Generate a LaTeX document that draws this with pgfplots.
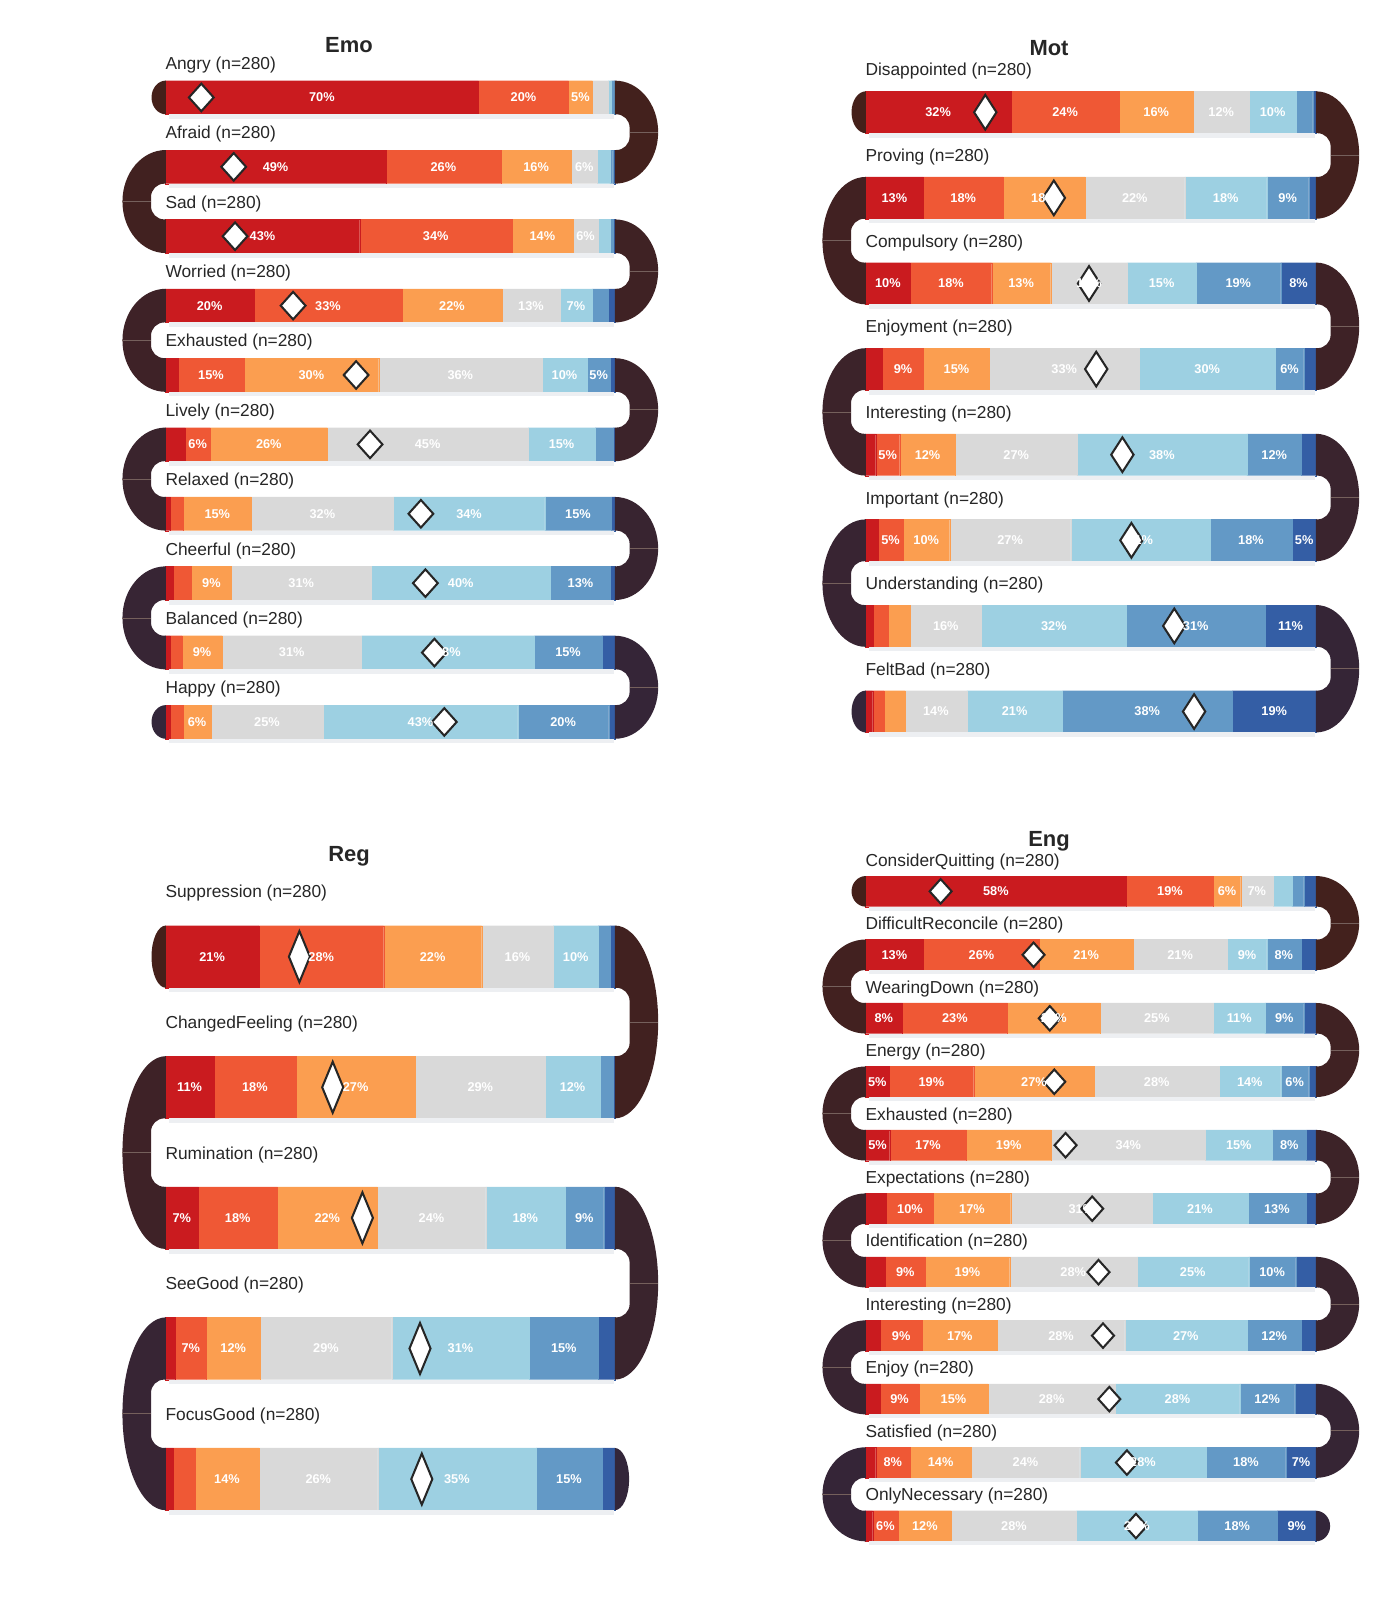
\documentclass[border=0pt]{standalone}
\usepackage{fontspec}
\setmainfont{Liberation Sans}
\usepackage{pgfplots}
\usepackage{pgfplotstable}
\pgfplotsset{compat=1.18}

\definecolor{c1}{HTML}{CA1B1F}
\definecolor{c2}{HTML}{EF5835}
\definecolor{c3}{HTML}{FB9E50}
\definecolor{c4}{HTML}{D9D9D9}
\definecolor{c5}{HTML}{9DD0E2}
\definecolor{c6}{HTML}{6399C6}
\definecolor{c7}{HTML}{345EA5}
\definecolor{arcA}{HTML}{45201A}
\definecolor{arcB}{HTML}{33263A}
\definecolor{arcline}{HTML}{75605C}
\definecolor{shadowc}{HTML}{EDEFF2}
\definecolor{txt}{HTML}{262626}

\newcommand\labfont{\fontsize{17}{20}\selectfont}
\newcommand\ttlfont{\bfseries\fontsize{21.5}{25}\selectfont}
\newcommand\barfont{\bfseries\fontsize{12.5}{14}\selectfont}

% ring between row #1 and row #1+1 at the right end; #2 colour mix; #3 name
\newcommand\rarc[3]{%
 \fill[arcB!#2!arcA] ([xshift=-0.5pt,yshift=\ArcR pt]axis cs:100,#1.5)
   arc[start angle=90,end angle=-90,x radius=42.5pt,y radius=\ArcR pt]
   -- ([xshift=-0.5pt,yshift=-\ArcG pt]axis cs:100,#1.5)
   -- ([xshift=1pt,yshift=-\ArcG pt]axis cs:100,#1.5)
   arc[start angle=-90,end angle=0,radius=13pt]
   -- ++(0pt,\ArcI pt)
   arc[start angle=0,end angle=90,radius=13pt]
   -- ([xshift=-0.5pt,yshift=\ArcG pt]axis cs:100,#1.5) -- cycle;
 \coordinate (#3) at (axis cs:100,#1.5);
}
\newcommand\larc[3]{%
 \fill[arcB!#2!arcA] ([xshift=0.5pt,yshift=\ArcR pt]axis cs:0,#1.5)
   arc[start angle=90,end angle=270,x radius=42.5pt,y radius=\ArcR pt]
   -- ([xshift=0.5pt,yshift=-\ArcG pt]axis cs:0,#1.5)
   -- ([xshift=-1pt,yshift=-\ArcG pt]axis cs:0,#1.5)
   arc[start angle=270,end angle=180,radius=13pt]
   -- ++(0pt,\ArcI pt)
   arc[start angle=180,end angle=90,radius=13pt]
   -- ([xshift=0.5pt,yshift=\ArcG pt]axis cs:0,#1.5) -- cycle;
 \coordinate (#3) at (axis cs:0,#1.5);
}
\newcommand\lcap[2]{\fill[arcB!#2!arcA] ([xshift=0.5pt,yshift=\BarH pt]axis cs:0,#1) arc[start angle=90,end angle=270,x radius=14pt,y radius=\BarH pt] -- cycle;}
\newcommand\rcap[2]{\fill[arcB!#2!arcA] ([xshift=-0.5pt,yshift=\BarH pt]axis cs:100,#1) arc[start angle=90,end angle=-90,x radius=14pt,y radius=\BarH pt] -- cycle;}
\newcommand\shad[1]{\fill[shadowc] ([xshift=4pt,yshift=-\BarH pt]axis cs:0,#1) rectangle ([xshift=-1pt,yshift=-\BarHs pt]axis cs:100,#1);}
\newcommand\lab[2]{\node[anchor=west,inner sep=0pt,font=\labfont,text=txt,yshift=-2pt] at (axis cs:0,#1) {#2};}
\newcommand\rmid[1]{\foreach \n in {#1} {\draw[arcline,line width=0.7pt] ([xshift=14pt]\n) -- ([xshift=42pt]\n);}}
\newcommand\lmid[1]{\foreach \n in {#1} {\draw[arcline,line width=0.7pt] ([xshift=-14pt]\n) -- ([xshift=-42pt]\n);}}

\pgfplotsset{
 snake/.style={scale only axis, hide axis, clip=false, xmin=0, xmax=100,
   y dir=reverse, xbar stacked, anchor=north west},
 lbl/.style={nodes near coords={\ifdim\rawx pt<4.95pt\relax\else\pgfmathprintnumber[fixed,precision=0,assume math mode=true]{\rawx}\%\fi},
   visualization depends on=rawx \as \rawx,
   every node near coord/.append style={font=\barfont, text=white}},
 s1/.style={lbl, fill=c1, draw=c1, line width=0.05pt},
 s2/.style={lbl, fill=c2, draw=c2, line width=0.05pt},
 s3/.style={lbl, fill=c3, draw=c3, line width=0.05pt},
 s4/.style={lbl, fill=c4, draw=c4, line width=0.05pt},
 s5/.style={lbl, fill=c5, draw=c5, line width=0.05pt},
 s6/.style={lbl, fill=c6, draw=c6, line width=0.05pt},
 s7/.style={lbl, fill=c7, draw=c7, line width=0.05pt},
 dia/.style={stack plots=false, only marks, mark=diamond*,
   mark options={fill=white, draw=black!85, line width=2pt, xscale=#1}},
}

\pgfplotstableread{
r a b c d e f g m
0 69.6 20.0 5.3 3.5 0.7 0.6 0.3 8.0
1 49.0 25.6 15.6 5.8 2.8 0.6 0.6 15.2
2 43.2 33.8 13.6 5.6 2.7 0.6 0.5 15.5
3 19.7 32.9 22.2 12.9 7.1 3.6 1.6 28.4
4 2.8 14.7 29.9 36.3 10.0 5.2 1.1 42.4
5 4.4 5.6 26.0 44.6 14.9 4.0 0.5 45.5
6 1.1 2.9 15.1 31.6 33.6 14.8 0.9 56.8
7 1.8 4.0 8.9 31.0 39.9 13.3 1.1 57.8
8 1.1 2.6 8.9 31.0 38.4 15.0 3.0 59.8
9 1.1 2.9 6.1 25.0 43.2 20.2 1.5 62.0
}\emo

\pgfplotstableread{
r a b c d e f g m
0 32.3 24.0 16.4 12.4 10.4 3.7 0.8 26.6
1 12.9 17.6 18.2 22.1 18.2 9.3 1.7 41.8
2 10.0 18.0 13.1 17.0 15.2 18.8 7.9 49.6
3 3.8 9.1 14.6 33.2 30.2 6.3 2.8 51.2
4 2.3 5.3 12.4 26.9 37.7 12.1 3.3 57.0
5 2.9 5.4 10.4 26.8 30.9 18.2 5.4 59.0
6 1.8 3.3 4.9 15.7 32.2 30.7 11.4 68.5
7 1.6 2.5 4.7 13.7 21.2 37.6 18.7 72.9
}\mot

\pgfplotstableread{
r a b c d e f g m
0 20.8 27.7 21.8 15.9 10.0 2.6 1.2 29.8
1 10.8 18.2 26.6 28.8 12.2 2.9 0.5 37.2
2 7.3 17.6 22.2 24.1 17.6 8.6 2.6 43.8
3 2.2 6.9 12.0 29.2 30.6 15.3 3.8 56.6
4 1.8 4.8 14.2 26.4 35.2 14.6 3.0 57.0
}\reg

\pgfplotstableread{
r a b c d e f g m
0 57.9 19.3 6.0 7.2 4.2 2.6 2.8 16.7
1 12.9 25.7 20.7 21.0 8.7 7.6 3.4 37.3
2 8.2 23.3 20.6 25.1 11.4 8.6 2.8 40.9
3 5.3 18.7 26.8 27.6 13.7 6.2 1.7 41.9
4 5.4 17.0 18.8 34.2 14.8 7.6 2.2 44.4
5 4.7 10.4 17.1 31.4 21.2 12.9 2.3 50.3
6 4.4 8.9 18.7 28.2 24.8 10.4 4.6 51.7
7 3.3 9.3 16.7 28.2 27.1 12.1 3.3 52.7
8 3.3 8.6 15.3 28.2 27.6 12.2 4.8 54.1
9 2.3 7.6 13.6 24.0 28.1 17.6 6.8 58.0
10 1.6 5.7 11.8 27.7 26.8 17.7 8.7 60.0
}\eng

\begin{document}
\begin{tikzpicture}
\useasboundingbox (0,0) rectangle (1372pt,-1568pt);

%================ Emo ================
\def\ArcR{50.5}\def\ArcG{17.5}\def\ArcI{9}\def\BarH{16.5}\def\BarHs{21}
\begin{axis}[snake, at={(162pt,-61.5pt)}, width=441pt, height=680pt,
  ymin=-0.5, ymax=9.5, bar width=33pt]
\rarc{0}{10}{e0}\larc{1}{20}{e1}\rarc{2}{30}{e2}\larc{3}{40}{e3}\rarc{4}{50}{e4}
\larc{5}{60}{e5}\rarc{6}{70}{e6}\larc{7}{80}{e7}\rarc{8}{90}{e8}
\lcap{0}{0}\lcap{9}{100}
\pgfplotsinvokeforeach{0,...,9}{\shad{#1}}
\addplot[s1] table[x=a,y=r]{\emo};
\addplot[s2] table[x=b,y=r]{\emo};
\addplot[s3] table[x=c,y=r]{\emo};
\addplot[s4] table[x=d,y=r]{\emo};
\addplot[s5] table[x=e,y=r]{\emo};
\addplot[s6] table[x=f,y=r]{\emo};
\addplot[s7] table[x=g,y=r]{\emo};
\addplot[dia=1.2, mark size=13.5pt] table[x=m,y=r]{\emo};
\lab{-0.5}{Angry (n=280)}
\lab{0.5}{Afraid (n=280)}
\lab{1.5}{Sad (n=280)}
\lab{2.5}{Worried (n=280)}
\lab{3.5}{Exhausted (n=280)}
\lab{4.5}{Lively (n=280)}
\lab{5.5}{Relaxed (n=280)}
\lab{6.5}{Cheerful (n=280)}
\lab{7.5}{Balanced (n=280)}
\lab{8.5}{Happy (n=280)}
\end{axis}
\rmid{e0,e2,e4,e6,e8}\lmid{e1,e3,e5,e7}

%================ Mot ================
\def\ArcR{62.45}\def\ArcG{21.45}\def\ArcI{16.9}\def\BarH{20.5}\def\BarHs{25}
\begin{axis}[snake, at={(848pt,-68.05pt)}, width=442pt, height=671.2pt,
  ymin=-0.5, ymax=7.5, bar width=41pt]
\rarc{0}{12}{m0}\larc{1}{25}{m1}\rarc{2}{38}{m2}\larc{3}{50}{m3}\rarc{4}{62}{m4}
\larc{5}{75}{m5}\rarc{6}{88}{m6}
\lcap{0}{0}\lcap{7}{100}
\pgfplotsinvokeforeach{0,...,7}{\shad{#1}}
\addplot[s1] table[x=a,y=r]{\mot};
\addplot[s2] table[x=b,y=r]{\mot};
\addplot[s3] table[x=c,y=r]{\mot};
\addplot[s4] table[x=d,y=r]{\mot};
\addplot[s5] table[x=e,y=r]{\mot};
\addplot[s6] table[x=f,y=r]{\mot};
\addplot[s7] table[x=g,y=r]{\mot};
\addplot[dia=0.86, mark size=17pt] table[x=m,y=r]{\mot};
\lab{-0.5}{Disappointed (n=280)}
\lab{0.5}{Proving (n=280)}
\lab{1.5}{Compulsory (n=280)}
\lab{2.5}{Enjoyment (n=280)}
\lab{3.5}{Interesting (n=280)}
\lab{4.5}{Important (n=280)}
\lab{5.5}{Understanding (n=280)}
\lab{6.5}{FeltBad (n=280)}
\end{axis}
\rmid{m0,m2,m4,m6}\lmid{m1,m3,m5}

%================ Reg ================
\def\ArcR{94.5}\def\ArcG{33.5}\def\ArcI{41}\def\BarH{30.5}\def\BarHs{35}
\begin{axis}[snake, at={(162pt,-873.5pt)}, width=441pt, height=640pt,
  ymin=-0.5, ymax=4.5, bar width=61pt]
\rarc{0}{20}{g0}\larc{1}{40}{g1}\rarc{2}{60}{g2}\larc{3}{80}{g3}
\lcap{0}{0}\rcap{4}{100}
\pgfplotsinvokeforeach{0,...,4}{\shad{#1}}
\addplot[s1] table[x=a,y=r]{\reg};
\addplot[s2] table[x=b,y=r]{\reg};
\addplot[s3] table[x=c,y=r]{\reg};
\addplot[s4] table[x=d,y=r]{\reg};
\addplot[s5] table[x=e,y=r]{\reg};
\addplot[s6] table[x=f,y=r]{\reg};
\addplot[s7] table[x=g,y=r]{\reg};
\addplot[dia=0.55, mark size=25pt] table[x=m,y=r]{\reg};
\lab{-0.5}{Suppression (n=280)}
\lab{0.5}{ChangedFeeling (n=280)}
\lab{1.5}{Rumination (n=280)}
\lab{2.5}{SeeGood (n=280)}
\lab{3.5}{FocusGood (n=280)}
\end{axis}
\rmid{g0,g2}\lmid{g1,g3}

%================ Eng ================
\def\ArcR{46.1}\def\ArcG{16.1}\def\ArcI{6.2}\def\BarH{15}\def\BarHs{19}
\begin{axis}[snake, at={(848pt,-842.4pt)}, width=442pt, height=684.2pt,
  ymin=-0.5, ymax=10.5, bar width=30pt]
\rarc{0}{9}{n0}\larc{1}{18}{n1}\rarc{2}{27}{n2}\larc{3}{36}{n3}\rarc{4}{45}{n4}
\larc{5}{55}{n5}\rarc{6}{64}{n6}\larc{7}{73}{n7}\rarc{8}{82}{n8}\larc{9}{91}{n9}
\lcap{0}{0}\rcap{10}{100}
\pgfplotsinvokeforeach{0,...,10}{\shad{#1}}
\addplot[s1] table[x=a,y=r]{\eng};
\addplot[s2] table[x=b,y=r]{\eng};
\addplot[s3] table[x=c,y=r]{\eng};
\addplot[s4] table[x=d,y=r]{\eng};
\addplot[s5] table[x=e,y=r]{\eng};
\addplot[s6] table[x=f,y=r]{\eng};
\addplot[s7] table[x=g,y=r]{\eng};
\addplot[dia=1.2, mark size=12pt] table[x=m,y=r]{\eng};
\lab{-0.5}{ConsiderQuitting (n=280)}
\lab{0.5}{DifficultReconcile (n=280)}
\lab{1.5}{WearingDown (n=280)}
\lab{2.5}{Energy (n=280)}
\lab{3.5}{Exhausted (n=280)}
\lab{4.5}{Expectations (n=280)}
\lab{5.5}{Identification (n=280)}
\lab{6.5}{Interesting (n=280)}
\lab{7.5}{Enjoy (n=280)}
\lab{8.5}{Satisfied (n=280)}
\lab{9.5}{OnlyNecessary (n=280)}
\end{axis}
\rmid{n0,n2,n4,n6,n8}\lmid{n1,n3,n5,n7,n9}

\node[font=\ttlfont,text=txt] at (342pt,-44pt) {Emo};
\node[font=\ttlfont,text=txt] at (1028pt,-47pt) {Mot};
\node[font=\ttlfont,text=txt] at (342pt,-839pt) {Reg};
\node[font=\ttlfont,text=txt] at (1028pt,-824pt) {Eng};
\end{tikzpicture}
\end{document}
